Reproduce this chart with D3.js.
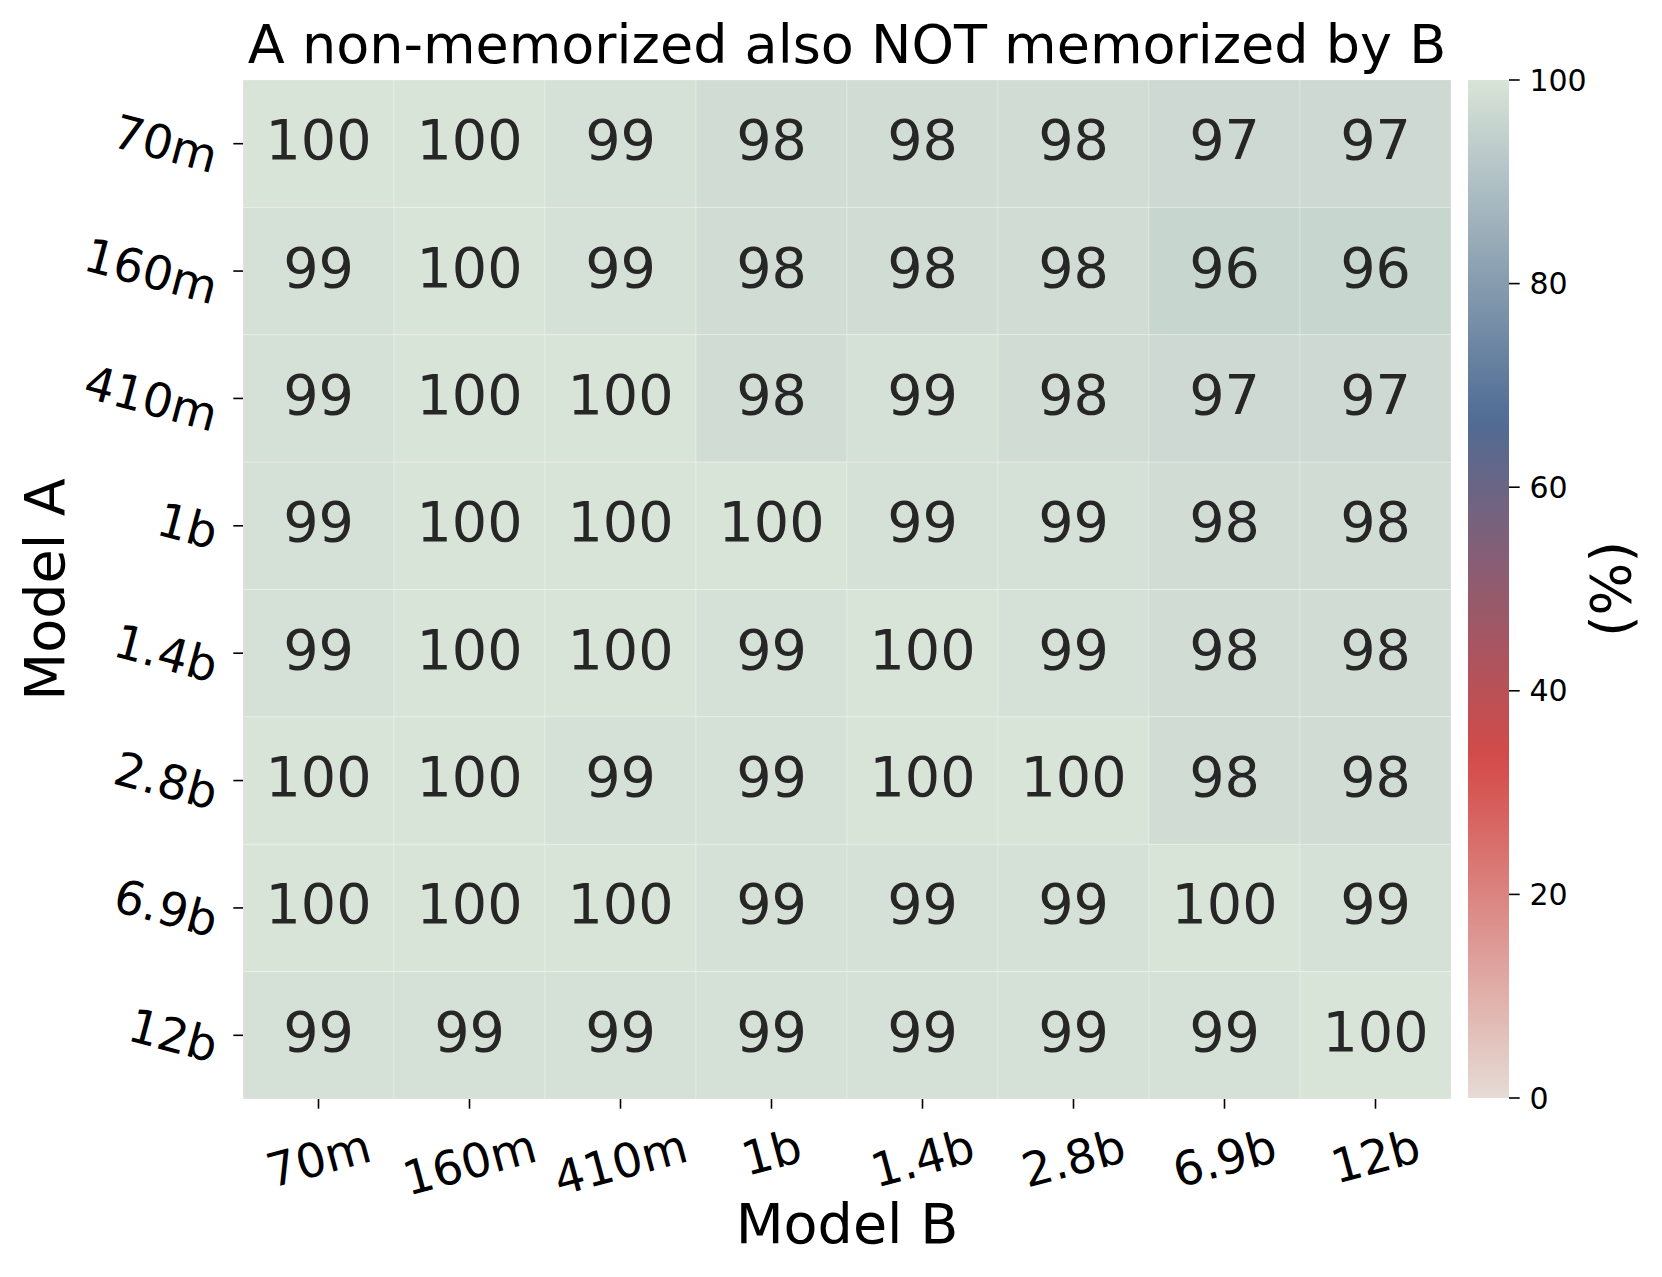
<!DOCTYPE html>
<html>
<head>
<meta charset="utf-8">
<script src="https://cdn.jsdelivr.net/npm/d3@7"></script>
<style>
  html, body { margin: 0; padding: 0; background: #ffffff; }
  svg { display: block; }
  text { font-family: "DejaVu Sans", sans-serif; }
</style>
</head>
<body>
<script>
// ---- data ----
const modelsB = ["70m", "160m", "410m", "1b", "1.4b", "2.8b", "6.9b", "12b"];
const modelsA = ["70m", "160m", "410m", "1b", "1.4b", "2.8b", "6.9b", "12b"];
const row70m  = [100, 100, 99, 98, 98, 98, 97, 97];
const row160m = [99, 100, 99, 98, 98, 98, 96, 96];
const row410m = [99, 100, 100, 98, 99, 98, 97, 97];
const row1b   = [99, 100, 100, 100, 99, 99, 98, 98];
const row1_4b = [99, 100, 100, 99, 100, 99, 98, 98];
const row2_8b = [100, 100, 99, 99, 100, 100, 98, 98];
const row6_9b = [100, 100, 100, 99, 99, 99, 100, 99];
const row12b  = [99, 99, 99, 99, 99, 99, 99, 100];
const colorbarTicks = [0, 20, 40, 60, 80, 100];
const titleText = "A non-memorized also NOT memorized by B";
const xTitle = "Model B";
const yTitle = "Model A";
const cbTitle = "(%)";

const rows = [row70m, row160m, row410m, row1b, row1_4b, row2_8b, row6_9b, row12b];
const cells = [];
rows.forEach((r, i) => r.forEach((v, j) => cells.push({a: modelsA[i], b: modelsB[j], v})));

// ---- layout ----
const W = 1662, H = 1277;
const hm = {x0: 243, x1: 1451, y0: 80, y1: 1099};
const cb = {x0: 1468, x1: 1509, y0: 80, y1: 1098};

const svg = d3.select("body").append("svg").attr("width", W).attr("height", H);

const x = d3.scaleBand().domain(modelsB).range([hm.x0, hm.x1]);
const y = d3.scaleBand().domain(modelsA).range([hm.y0, hm.y1]);
const color = d3.scaleLinear()
  .domain([0, 100/3, 200/3, 100])
  .range(["#e6dbd5", "#d44a48", "#4f6c94", "#d9e4d8"])
  .interpolate(d3.interpolateRgb)
  .clamp(true);

// cells
svg.append("g").selectAll("rect").data(cells).join("rect")
  .attr("x", d => x(d.b)).attr("y", d => y(d.a))
  .attr("width", x.bandwidth()).attr("height", y.bandwidth())
  .attr("fill", d => color(d.v))
  .attr("stroke", "rgba(255,255,255,0.25)").attr("stroke-width", 1);

// annotations
svg.append("g").selectAll("text").data(cells).join("text")
  .attr("x", d => x(d.b) + x.bandwidth() / 2)
  .attr("y", d => y(d.a) + y.bandwidth() / 2 - 4)
  .attr("text-anchor", "middle").attr("dominant-baseline", "central")
  .attr("font-size", 55.6).attr("fill", "#262626")
  .text(d => d3.format("d")(d.v));

const deg = Math.PI / 180;
const theta = 15 * deg;
const tickFont = 47;
const tickLen = 9.7, pad = 9.7;

// y axis ticks + labels (rotated clockwise 15deg, right/center aligned)
const yAxis = svg.append("g");
modelsA.forEach(m => {
  const ty = y(m) + y.bandwidth() / 2;
  yAxis.append("line").attr("x1", hm.x0 - tickLen).attr("x2", hm.x0)
    .attr("y1", ty).attr("y2", ty).attr("stroke", "#000").attr("stroke-width", 1.6);
  const t = yAxis.append("text").attr("font-size", tickFont).attr("fill", "#000")
    .attr("text-anchor", "end").attr("dominant-baseline", "central").text(m);
  const w = t.node().getComputedTextLength();
  const h = tickFont * 1.16;
  const px = hm.x0 - tickLen - pad - (h / 2) * Math.sin(theta);
  const py = ty + (w * Math.sin(theta)) / 2;
  t.attr("x", px).attr("y", py).attr("transform", `rotate(15,${px},${py})`);
});

// x axis ticks + labels (rotated counter-clockwise 15deg, centered, top aligned)
const xAxis = svg.append("g");
modelsB.forEach(m => {
  const tx = x(m) + x.bandwidth() / 2;
  xAxis.append("line").attr("x1", tx).attr("x2", tx)
    .attr("y1", hm.y1).attr("y2", hm.y1 + tickLen).attr("stroke", "#000").attr("stroke-width", 1.6);
  const t = xAxis.append("text").attr("font-size", tickFont).attr("fill", "#000")
    .attr("text-anchor", "middle").attr("dominant-baseline", "central").text(m);
  const w = t.node().getComputedTextLength();
  const h = tickFont * 1.16;
  const top = hm.y1 + tickLen + pad;
  const py = top + (w / 2) * Math.sin(theta) + (h / 2) * Math.cos(theta);
  t.attr("x", tx).attr("y", py).attr("transform", `rotate(-15,${tx},${py})`);
});

// titles
svg.append("text").attr("x", (hm.x0 + hm.x1) / 2).attr("y", 63)
  .attr("text-anchor", "middle").attr("font-size", 54).attr("fill", "#000").text(titleText);
svg.append("text").attr("x", (hm.x0 + hm.x1) / 2).attr("y", 1243)
  .attr("text-anchor", "middle").attr("font-size", 55.6).attr("fill", "#000").text(xTitle);
svg.append("text").attr("transform", `translate(64,${(hm.y0 + hm.y1) / 2}) rotate(-90)`)
  .attr("text-anchor", "middle").attr("font-size", 55.6).attr("fill", "#000").text(yTitle);

// colorbar
const cbScale = d3.scaleLinear().domain([0, 100]).range([cb.y1, cb.y0]);
const defs = svg.append("defs");
const grad = defs.append("linearGradient").attr("id", "cbgrad")
  .attr("x1", 0).attr("y1", 1).attr("x2", 0).attr("y2", 0);
d3.range(0, 101, 2).forEach(v => {
  grad.append("stop").attr("offset", `${v}%`).attr("stop-color", color(v));
});
svg.append("rect").attr("x", cb.x0).attr("y", cb.y0)
  .attr("width", cb.x1 - cb.x0).attr("height", cb.y1 - cb.y0)
  .attr("fill", "url(#cbgrad)");
const cbAxis = svg.append("g");
colorbarTicks.forEach(v => {
  const ty = cbScale(v);
  cbAxis.append("line").attr("x1", cb.x1).attr("x2", cb.x1 + 10.7)
    .attr("y1", ty).attr("y2", ty).attr("stroke", "#000").attr("stroke-width", 1.6);
  cbAxis.append("text").attr("x", cb.x1 + 10.7 + 9.7).attr("y", ty)
    .attr("dominant-baseline", "central").attr("font-size", 30).attr("fill", "#000").text(v);
});
svg.append("text").attr("transform", `translate(1630,${(cb.y0 + cb.y1) / 2}) rotate(-90)`)
  .attr("text-anchor", "middle").attr("font-size", 55.6).attr("fill", "#000").text(cbTitle);
</script>
</body>
</html>
